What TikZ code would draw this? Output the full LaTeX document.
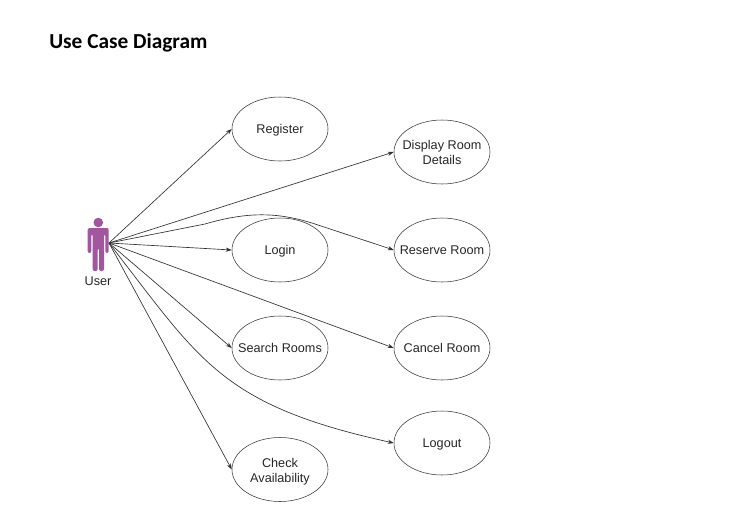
\documentclass[tikz,border=0pt]{standalone}
\usepackage{fontspec}
\setmainfont{Liberation Sans}
\newfontfamily\titlefont{Carlito}
\usepackage{tikz}
\usetikzlibrary{arrows.meta,shapes.geometric,positioning}
\definecolor{actorpurple}{HTML}{A2569E}
\definecolor{linegray}{HTML}{333333}

\begin{document}
\begin{tikzpicture}[
    x=0.75pt, y=-0.75pt,
    usecase/.style={draw=linegray, ellipse, minimum width=72pt, minimum height=48pt, inner xsep=-10pt, inner ysep=0pt, align=center, font=\fontsize{9.5}{11.25}\selectfont, text=black!85},
    oneline/.style={text height=9pt, text depth=2pt},
    arr/.style={-{Stealth[length=4.5pt,width=3.2pt,fill=black]}, draw=linegray, line width=0.5pt}
]
\useasboundingbox (0,0) rectangle (735,514);
\node[anchor=west, inner sep=0pt, font=\titlefont\bfseries\fontsize{16}{18}\selectfont] (title) at (49,43) {Use Case Diagram};

% actor
\fill[actorpurple] (98.3,222.5) circle (4.8);
\fill[actorpurple, rounded corners=1.5] (87.7,253) -- (87.7,228) -- (108.7,228) -- (108.7,253) -- (105.3,253) -- (105.3,234) -- (104,234) -- (104,271) -- (99,271) -- (99,248) -- (97.7,248) -- (97.7,271) -- (92.7,271) -- (92.7,234) -- (91.3,234) -- (91.3,253) -- cycle;
\node[font=\fontsize{9.5}{11.25}\selectfont, text=black!85] (userlabel) at (98,281) {User};
\coordinate (user) at (109,243);

\node[usecase,oneline] (register) at (280,129) {Register};
\node[usecase,oneline] (login) at (280,250) {Login};
\node[usecase,oneline] (search) at (280,348) {Search Rooms};
\node[usecase] (check) at (280,469.5) {\rule{0pt}{9.5pt}Check\\Availability};
\node[usecase] (display) at (442,152) {Display Room\\Details};
\node[usecase,oneline] (reserve) at (442,250) {Reserve Room};
\node[usecase,oneline] (cancel) at (442,348) {Cancel Room};
\node[usecase,oneline] (logout) at (442,443) {Logout};

\draw[arr] (user) -- (register.west);
\draw[arr] (user) -- (display.west);
\draw[arr] (user) -- (205,224) .. controls (248,211.5) and (278,212) .. (315,224) -- (reserve.west);
\draw[arr] (user) -- (login.west);
\draw[arr] (user) -- (search.west);
\draw[arr] (user) -- (cancel.west);
\draw[arr] (user) .. controls (200,360) and (220,405) .. (logout.west);
\draw[arr] (user) -- (check.west);
\end{tikzpicture}
\end{document}
